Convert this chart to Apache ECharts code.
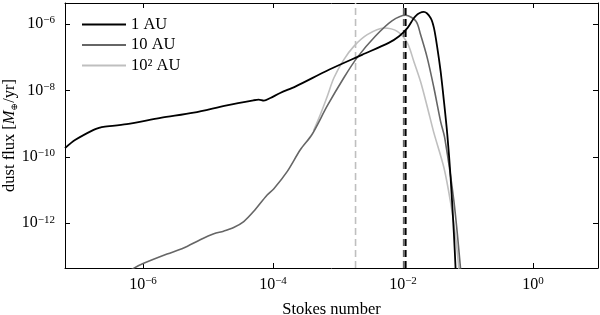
<!DOCTYPE html>
<html><head><meta charset="utf-8">
<script src="https://cdn.jsdelivr.net/npm/echarts@6/dist/echarts.min.js"></script>
<style>html,body{margin:0;padding:0;background:#fff}#c{width:600px;height:315px}</style>
</head><body><div id="c"></div>
<script>
const FONT = 'Liberation Serif';
const seriesNames = ['1 AU', '10 AU', '10² AU'];
const seriesColors = ['#000000', '#666666', '#bfbfbf'];

// values stored as log10(Stokes number) and log10(dust flux)
const au1LogSt   = [-7.20, -7.04, -6.76, -6.66, -6.61, -6.25, -5.73, -5.22, -4.71, -4.30, -4.22, -4.14, -4.04, -3.89, -3.65, -3.14, -2.63, -2.22, -2.06, -1.93, -1.81, -1.68, -1.575, -1.524, -1.472, -1.421, -1.370, -1.318, -1.267, -1.216, -1.190];
const au1LogFlux = [-9.74, -9.49, -9.19, -9.12, -9.10, -9.02, -8.83, -8.67, -8.45, -8.30, -8.28, -8.31, -8.23, -8.08, -7.88, -7.38, -6.93, -6.57, -6.37, -6.12, -5.77, -5.64, -5.82, -6.12, -6.72, -7.43, -8.33, -9.34, -10.64, -12.35, -13.41];

const au10LogSt   = [-6.23, -6.145, -5.99, -5.63, -5.375, -5.12, -4.91, -4.76, -4.605, -4.45, -4.30, -4.09, -3.99, -3.78, -3.58, -3.40, -3.166, -2.91, -2.70, -2.43, -2.17, -1.96, -1.80, -1.73, -1.626, -1.524, -1.421, -1.358, -1.216, -1.113];
const au10LogFlux = [-13.47, -13.36, -13.21, -12.93, -12.75, -12.50, -12.32, -12.24, -12.13, -11.95, -11.65, -11.15, -10.97, -10.44, -9.79, -9.33, -8.47, -7.62, -7.00, -6.38, -5.91, -5.74, -5.92, -6.32, -7.03, -7.93, -8.94, -9.43, -11.35, -13.41];

const au100LogSt   = [-3.377, -3.273, -3.166, -3.064, -2.910, -2.757, -2.550, -2.294, -2.088, -1.934, -1.832, -1.729, -1.626, -1.529, -1.370, -1.267, -1.190, -1.139];
const au100LogFlux = [-9.217, -8.734, -8.183, -7.628, -7.076, -6.675, -6.323, -6.121, -6.223, -6.573, -7.137, -7.740, -8.500, -9.250, -10.332, -11.387, -12.412, -13.407];

const dashLogSt = [-1.96, -1.99, -2.73];   // vertical dashed markers for 1, 10, 100 AU

const xTickExps = [-6, -4, -2, 0];
const yTickExps = [-12, -10, -8, -6];
const xRangeExp = [-7.2, 1.0];
const yRangeExp = [-13.35, -5.37];

const p10 = e => Math.pow(10, e);
const pairs = (xs, ys) => xs.map((x, i) => [p10(x), p10(ys[i])]);

const xTickVals = xTickExps.map(p10);
const yTickVals = yTickExps.map(p10);

function powLabel(v) {
  const e = Math.round(Math.log10(v));
  return '{b|10}{s|' + (e < 0 ? '−' : '') + Math.abs(e) + '}';
}
const labelRich = {
  b: { fontFamily: FONT, fontSize: 16, lineHeight: 18, color: '#000' },
  s: { fontFamily: FONT, fontSize: 11, lineHeight: 7, verticalAlign: 'top', color: '#000' }
};

function makeX(pos, showLabel) {
  return {
    type: 'log', logBase: 10, position: pos,
    min: p10(xRangeExp[0]), max: p10(xRangeExp[1]),
    axisLine: { show: true, onZero: false, lineStyle: { color: '#000', width: 1 } },
    axisTick: { show: true, inside: true, length: 5, customValues: xTickVals, lineStyle: { color: '#000', width: 1 } },
    axisLabel: { show: showLabel, customValues: xTickVals, formatter: powLabel, rich: labelRich, margin: 8 },
    splitLine: { show: false }, minorTick: { show: false }
  };
}
function makeY(pos, showLabel) {
  return {
    type: 'log', logBase: 10, position: pos,
    min: p10(yRangeExp[0]), max: p10(yRangeExp[1]),
    axisLine: { show: true, onZero: false, lineStyle: { color: '#000', width: 1 } },
    axisTick: { show: true, inside: true, length: 5, customValues: yTickVals, lineStyle: { color: '#000', width: 1 } },
    axisLabel: { show: showLabel, customValues: yTickVals, formatter: powLabel, rich: labelRich, margin: 10 },
    splitLine: { show: false }, minorTick: { show: false }
  };
}

const xBottom = makeX('bottom', true);
xBottom.name = 'Stokes number';
xBottom.nameLocation = 'middle';
xBottom.nameGap = 33;
xBottom.nameMoveOverlap = false;
xBottom.nameTextStyle = { fontFamily: FONT, fontSize: 16.5, color: '#000' };

const yLeft = makeY('left', true);
yLeft.name = 'dust flux [{i|M}{o|⊕}/yr]';
yLeft.nameLocation = 'middle';
yLeft.nameGap = 46;
yLeft.nameMoveOverlap = false;
yLeft.nameTextStyle = {
  fontFamily: FONT, fontSize: 16.5, color: '#000', lineHeight: 18,
  rich: {
    i: { fontFamily: FONT, fontStyle: 'italic', fontSize: 16.5, color: '#000', lineHeight: 18 },
    o: { fontFamily: 'DejaVu Serif', fontSize: 9, color: '#000', lineHeight: 5, verticalAlign: 'bottom' }
  }
};

const dataSets = [pairs(au1LogSt, au1LogFlux), pairs(au10LogSt, au10LogFlux), pairs(au100LogSt, au100LogFlux)];
const widths = [1.8, 1.6, 1.6];
const dashWidths = [2, 1.6, 1.6];

const series = seriesNames.map((n, i) => ({
  name: n, type: 'line', data: dataSets[i], xAxisIndex: 0, yAxisIndex: 0,
  symbol: 'none', smooth: 0.3, clip: true,
  z: [4, 3, 2][i],
  lineStyle: { color: seriesColors[i], width: widths[i] },
  itemStyle: { color: seriesColors[i] }
}));
// vertical dashed lines, spanning the full y range
dashLogSt.forEach((e, i) => {
  series.push({
    name: 'dash' + i, type: 'line', xAxisIndex: 0, yAxisIndex: 0,
    data: [[p10(e), p10(yRangeExp[0])], [p10(e), p10(yRangeExp[1])]],
    symbol: 'none', silent: true, z: [4, 3, 2][i],
    lineStyle: { color: seriesColors[i], width: dashWidths[i], type: [7, 4] }
  });
});

const chart = echarts.init(document.getElementById('c'), null, { renderer: 'canvas' });
chart.setOption({
  animation: false,
  backgroundColor: '#fff',
  grid: { left: 65, right: 2, top: 3, bottom: 47, containLabel: false, outerBoundsMode: 'none' },
  legend: {
    data: seriesNames, orient: 'vertical', left: 77, top: 11,
    icon: 'rect', itemWidth: 44, itemHeight: 2, itemGap: 3.5,
    textStyle: { fontFamily: FONT, fontSize: 16.5, color: '#000', lineHeight: 17 },
    selectedMode: false
  },
  xAxis: [xBottom, makeX('top', false)],
  yAxis: [yLeft, makeY('right', false)],
  series: series
});
</script></body></html>
